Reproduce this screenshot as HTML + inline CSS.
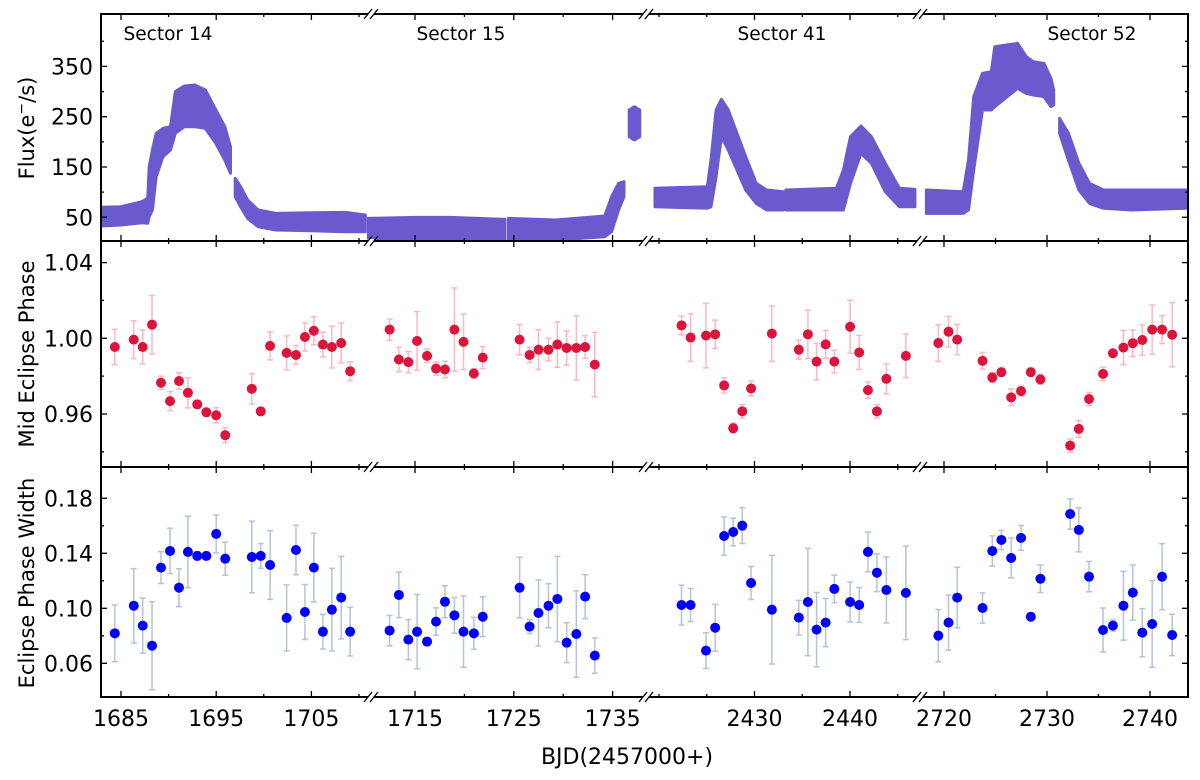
<!DOCTYPE html>
<html><head><meta charset="utf-8"><style>
html,body{margin:0;padding:0;background:#fff;}
svg{display:block;font-family:"DejaVu Sans","Liberation Sans",sans-serif;}
</style></head><body>
<svg id="chart" width="1200" height="780" viewBox="0 0 1200 780" xmlns="http://www.w3.org/2000/svg">
<defs>
<clipPath id="clipTop"><rect x="101" y="14" width="1087" height="227"/></clipPath>
<clipPath id="clipMid"><rect x="101" y="241" width="1087" height="226"/></clipPath>
<clipPath id="clipBot"><rect x="101" y="467" width="1087" height="230"/></clipPath>
</defs>
<g id="flux" clip-path="url(#clipTop)"></g>
<g id="mid" clip-path="url(#clipMid)"></g>
<g id="bot" clip-path="url(#clipBot)"></g>
<g id="axes"></g>
<text x="168" y="40" font-size="18.5" text-anchor="middle">Sector 14</text>
<text x="461" y="40" font-size="18.5" text-anchor="middle">Sector 15</text>
<text x="782" y="40" font-size="18.5" text-anchor="middle">Sector 41</text>
<text x="1092" y="40" font-size="18.5" text-anchor="middle">Sector 52</text>
<text transform="translate(34,128) rotate(-90)" font-size="21" text-anchor="middle">Flux(e<tspan baseline-shift="super" font-size="14">−</tspan>/s)</text>
<text transform="translate(34,354) rotate(-90)" font-size="21" text-anchor="middle">Mid Eclipse Phase</text>
<text transform="translate(34,583) rotate(-90)" font-size="21" text-anchor="middle">Eclipse Phase Width</text>
<text x="627" y="764" font-size="22" text-anchor="middle">BJD(2457000+)</text>
</svg>
<script>
const NS="http://www.w3.org/2000/svg";
// x segments (broken axis)
const segStart=[1682.9,1710.55,2418.64,2717.72];
const segEnd=[1711.25,1738.36,2447.33,2743.74];
const segTickT=[1685,1715,2430,2720];
const segTickX=[121,415,754.5,944];
const segScale=[9.52,9.88,9.55,10.3];
const breakX=[371,646,920];
const majorTicksX=[1685,1695,1705,1715,1725,1735,2430,2440,2720,2730,2740];
const minorTicksX=[1690,1700,1710,1720,1730,2420,2425,2435,2445,2725,2735];

// phase times shared by middle and bottom panels
const phaseTime=[1684.35,1686.34,1687.28,1688.26,1689.2,1690.15,1691.09,1692.03,1693.01,1693.96,1695.0,1695.95,1698.74,1699.68,1700.66,1702.4,1703.38,1704.32,1705.26,1706.21,1707.15,1708.13,1709.07,
1712.43,1713.37,1714.33,1715.21,1716.22,1717.13,1718.03,1718.99,1719.91,1720.96,1721.86,1725.59,1726.6,1727.5,1728.51,1729.41,1730.35,1731.33,1732.22,1733.2,
2422.36,2423.31,2424.92,2425.88,2426.82,2427.77,2428.72,2429.64,2431.82,2434.64,2435.59,2436.5,2437.45,2438.36,2440.01,2440.96,2441.88,2442.82,2443.81,2445.85,
2719.45,2720.44,2721.28,2723.74,2724.69,2725.57,2726.52,2727.48,2728.43,2729.36,2732.25,2733.09,2734.08,2735.44,2736.4,2737.42,2738.33,2739.25,2740.21,2741.17,2742.15];
const midPhase=[0.9954,0.9993,0.9954,1.0072,0.9765,0.9668,0.9774,0.9712,0.9651,0.9609,0.9593,0.9488,0.9733,0.9614,0.9960,0.9923,0.9912,1.0007,1.0040,0.9967,0.9954,0.9975,0.9826,
1.0046,0.9888,0.9874,0.9986,0.9907,0.9840,0.9835,1.0046,0.9981,0.9814,0.9898,0.9993,0.9912,0.9940,0.9940,0.9967,0.9949,0.9949,0.9954,0.9861,
1.0068,1.0004,1.0014,1.0021,0.9751,0.9525,0.9614,0.9735,1.0025,0.9940,1.0021,0.9877,0.9968,0.9877,1.0061,0.9925,0.9726,0.9614,0.9786,0.9907,
0.9975,1.0035,0.9993,0.9881,0.9793,0.9821,0.9688,0.9721,0.9821,0.9783,0.9433,0.9521,0.9679,0.9812,0.9921,0.9951,0.9974,0.9991,1.0046,1.0046,1.0019];
const midErr=[.0093,.010,.009,.0155,.0035,.005,.0044,.008,.002,.002,.004,.004,.008,.002,.0074,.009,.005,.0074,.0074,.0065,.011,.0105,.005,
.0056,.0065,.0056,.0155,.0035,.0035,.0044,.022,.0146,.0026,.0058,.008,.004,.0105,.006,.012,.009,.017,.006,.017,
.005,.0126,.017,.0075,.004,.0026,.0035,.004,.0146,.005,.0128,.0096,.0074,.006,.014,.009,.0044,.0035,.008,.0115,
.0096,.008,.008,.0044,.0026,.002,.0044,.0026,.002,.0026,.0035,.0044,.0035,.0035,.002,.009,.007,.008,.013,.0074,.017];
const widthVal=[0.0818,0.1019,0.0874,0.0728,0.1296,0.1417,0.1150,0.1410,0.1381,0.1381,0.1541,0.1361,0.1373,0.1381,0.1315,0.0930,0.1424,0.0973,0.1296,0.0830,0.0990,0.1078,0.0830,
0.0838,0.1097,0.0772,0.0830,0.0758,0.0903,0.1048,0.0949,0.0830,0.0818,0.0939,0.1150,0.0867,0.0966,0.1019,0.1068,0.0750,0.0813,0.1085,0.0656,
0.1024,0.1024,0.0692,0.0859,0.1526,0.1555,0.1601,0.1184,0.0990,0.0932,0.1046,0.0845,0.0896,0.1141,0.1046,0.1024,0.1410,0.1259,0.1133,0.1112,
0.0801,0.0896,0.1078,0.1002,0.1417,0.1497,0.1366,0.1512,0.0939,0.1215,0.1686,0.1570,0.1230,0.0842,0.0874,0.1019,0.1114,0.0823,0.0886,0.1230,0.0806];
const widthErr=[.0206,.027,.020,.032,.0116,.0165,.0138,.026,.003,.0025,.0138,.012,.026,.009,.025,.024,.018,.020,.025,.0126,.030,.030,.0177,
.011,.0165,.0145,.027,.003,.010,.0116,.013,.026,.0116,.0145,.022,.005,.024,.016,.031,.0145,.0315,.016,.0128,
.0145,.012,.013,.017,.014,.010,.013,.012,.0395,.0126,.039,.027,.0175,.010,.0145,.0126,.0145,.0138,.024,.034,
.019,.020,.022,.011,.011,.007,.0145,.009,.0025,.010,.011,.016,.011,.016,.004,.025,.020,.0175,.0315,.024,.015];

// light curve chunks: time, upper flux, lower flux
const lcTime=[[1682.79,1685.0,1687.2,1687.8,1687.96,1688.3,1688.7,1689.4,1690.2,1690.7,1691.65,1692.75,1693.86,1694.97,1695.9,1696.5],
[1697.0,1697.56,1698.3,1699.4,1701.25,1704.95,1708.6,1710.66],
[1710.99,1715.07,1718.6,1724.1],
[1724.45,1729.24,1734.2,1734.9,1735.6,1736.15],
[1736.68,1737.2,1737.75],
[2419.58,2425.06,2425.44,2425.98,2426.53,2427.26,2429.08,2430.18,2431.28,2433.03],
[2433.29,2438.58,2439.31,2440.05,2441.15,2442.24,2443.7,2445.17,2446.8],
[2718.29,2721.86,2722.38,2722.88,2723.74,2724.59,2724.93,2727.15,2727.99,2728.67,2729.7,2730.38,2730.65],
[2731.22,2732.08,2733.1,2734.13,2735.49,2738.21,2743.49]];
const lcHigh=[[69.8,71.1,81.0,87.7,150.6,183.8,216.9,226.8,230.2,299.7,311.0,313.0,303.0,263.3,230.2,190.4],
[127.4,110.9,84.4,64.5,57.8,59.2,59.8,54.5],
[47.9,49.9,49.9,45.9],
[47.9,44.6,52.5,91.0,117.5,120.8],
[263.3,269.9,263.3],
[107.6,110.9,163.9,263.3,284.5,263.3,170.5,117.5,104.2,100.9],
[104.2,107.6,144.0,210.3,231.5,210.3,157.3,107.6,105.5],
[104.2,100.9,163.9,289.8,336.2,339.5,389.2,395.8,369.3,359.4,356.1,326.2,303.0],
[246.7,216.9,157.3,117.5,104.2,104.2,104.2]];
const lcLow=[[32.7,34.7,39.3,38.0,51.2,64.5,130.7,170.5,183.8,216.9,230.2,230.2,226.8,197.0,163.9,137.4],
[91.0,71.1,47.9,31.3,24.7,23.4,21.4,21.4],
[8.1,4.8,6.2,6.2],
[4.8,4.8,11.4,21.4,64.5,91.0],
[210.3,203.6,210.3],
[71.1,67.8,71.1,130.7,210.3,183.8,104.2,77.7,64.5,64.5],
[64.5,64.5,64.5,117.5,177.1,157.3,100.9,71.1,71.1],
[57.8,57.8,64.5,144.0,263.3,263.3,269.9,306.4,296.4,293.1,289.8,269.9,273.2],
[216.9,163.9,104.2,77.7,67.8,64.5,67.8]];

const fluxMajor=[350,250,150,50], fluxMinor=[400,300,200,100];
const midMajor=[1.04,1.00,0.96], midMinor=[1.02,0.98,0.94];
const widMajor=[0.18,0.14,0.10,0.06], widMinor=[0.16,0.12,0.08];

function segOf(t){for(let i=0;i<4;i++){if(t>=segStart[i]-1&&t<=segEnd[i]+1)return i;}return 0;}
function xOf(t){const s=segOf(t);return segTickX[s]+(t-segTickT[s])*segScale[s];}
function yTop(f){return 217.3-(f-50)*0.503;}
function yMid(v){return 338.3-(v-1)*1892;}
function yBot(v){return 608.3-(v-0.10)*1375;}

function mk(tag,attrs,parent){const e=document.createElementNS(NS,tag);for(const k in attrs)e.setAttribute(k,attrs[k]);parent.appendChild(e);return e;}

// light curve bands
const gF=document.getElementById('flux');
for(let c=0;c<lcTime.length;c++){
  let pts=[];
  for(let i=0;i<lcTime[c].length;i++)pts.push(xOf(lcTime[c][i]).toFixed(1)+','+yTop(lcHigh[c][i]).toFixed(1));
  for(let i=lcTime[c].length-1;i>=0;i--)pts.push(xOf(lcTime[c][i]).toFixed(1)+','+yTop(lcLow[c][i]).toFixed(1));
  const p=mk('polygon',{points:pts.join(' '),fill:'#6a5acd',stroke:'#6a5acd','stroke-width':3,'stroke-linejoin':'round'},gF);
  
  
}

function drawSeries(g,vals,errs,yf,pcol,ecol,name){
  for(let i=0;i<phaseTime.length;i++){
    const x=xOf(phaseTime[i]),y=yf(vals[i]),y1=yf(vals[i]+errs[i]),y2=yf(vals[i]-errs[i]);
    const eb=mk('path',{d:`M${x},${y1}V${y2}M${x-3},${y1}H${x+3}M${x-3},${y2}H${x+3}`,stroke:ecol,'stroke-width':1.5,fill:'none'},g);
    
    
    const c=mk('circle',{cx:x,cy:y,r:5,fill:pcol},g);
    
    
  }
}
drawSeries(document.getElementById('mid'),midPhase,midErr,yMid,'#dc143c','#ffb6c1','mid-eclipse');
drawSeries(document.getElementById('bot'),widthVal,widthErr,yBot,'#0000ff','#b0c4de','phase-width');

// axes
const gA=document.getElementById('axes');
const L=101,R=1188,panels=[[14,241],[241,467],[467,697]];
mk('rect',{x:L,y:14,width:R-L,height:683,fill:'none',stroke:'#000','stroke-width':2},gA);
mk('line',{x1:L,y1:241,x2:R,y2:241,stroke:'#000','stroke-width':2},gA);
mk('line',{x1:L,y1:467,x2:R,y2:467,stroke:'#000','stroke-width':2},gA);
function tickPath(d,w){const p=mk('path',{d:d,stroke:'#000','stroke-width':w,fill:'none'},gA);return p;}
let d='';
for(const [t0,t1] of panels){
  for(const t of majorTicksX){const x=xOf(t);d+=`M${x},${t1}v-6M${x},${t0}v6`;}
  for(const t of minorTicksX){const x=xOf(t);if(x<L+2||x>R-2)continue;const s=segOf(t);if(t<segStart[s]||t>segEnd[s])continue;d+=`M${x},${t1}v-3M${x},${t0}v3`;}
}
function yt(arr,f,len){for(const v of arr){const y=f(v);d+=`M${L},${y}h${len}M${R},${y}h${-len}`;}}
yt(fluxMajor,yTop,6);yt(fluxMinor,yTop,3);yt(midMajor,yMid,6);yt(midMinor,yMid,3);yt(widMajor,yBot,6);yt(widMinor,yBot,3);
tickPath(d,1.3);
// break marks
for(const bx of breakX){
  for(const yy of [14,241,467,697]){
    mk('rect',{x:bx-3,y:yy-2,width:6,height:4,fill:'#fff'},gA);
    const b=mk('path',{d:`M${bx-7},${yy+5}L${bx+1},${yy-5}M${bx-1},${yy+5}L${bx+7},${yy-5}`,stroke:'#000','stroke-width':1.3,fill:'none'},gA);
    
    
  }
}
function label(txt,x,y,anchor,name){const t=mk('text',{x:x,y:y,'font-size':22,'text-anchor':anchor},gA);t.textContent=txt;}
for(const v of fluxMajor)label(String(v),93,yTop(v)+8,'end','y-tick-label-flux');
for(const v of midMajor)label(v.toFixed(2),93,yMid(v)+8,'end','y-tick-label-mid');
for(const v of widMajor)label(v.toFixed(2),93,yBot(v)+8,'end','y-tick-label-width');
for(const t of majorTicksX)label(String(t),xOf(t),726,'middle','x-tick-label');
</script>
</body></html>
